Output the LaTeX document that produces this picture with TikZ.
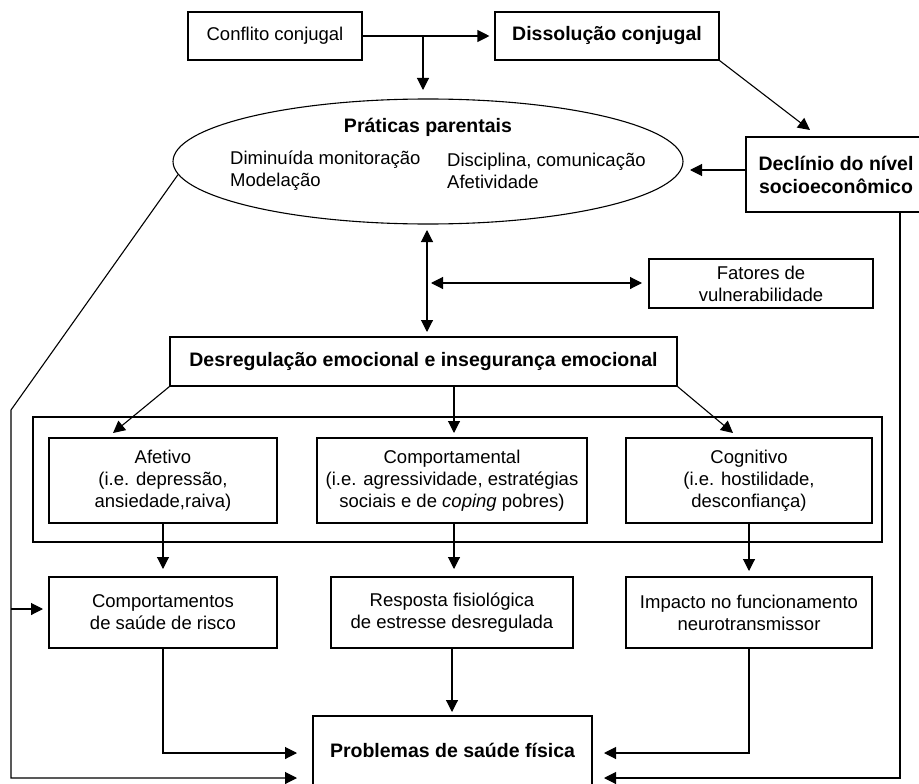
\documentclass[tikz,border=0pt]{standalone}
\usepackage{fontspec}
\setmainfont{Liberation Sans}
\usetikzlibrary{arrows.meta,shapes.geometric}
\newcommand\txtf{\fontsize{18.5}{22}\selectfont}
\newcommand\btxtf{\fontsize{19.5}{23}\selectfont\bfseries}
\begin{document}
\begin{tikzpicture}[x=1pt,y=-1pt,
  box/.style={draw, line width=1.1pt, inner sep=0pt, align=center, font=\txtf},
  bbox/.style={box, font=\btxtf},
  lbl/.style={inner sep=0pt, align=left, font=\txtf},
  arr/.style={line width=1.1pt, -{Triangle[length=12pt,width=12pt]}},
  arrb/.style={line width=1.1pt, {Triangle[length=12pt,width=12pt]}-{Triangle[length=12pt,width=12pt]}}]
\useasboundingbox (0,0) rectangle (919,784);

% top row
\node[box, minimum width=174pt, minimum height=48pt] (conf) at (275,36) {Conflito conjugal};
\node[bbox, minimum width=224pt, minimum height=48pt] (diss) at (607,36) {Dissolução conjugal};
\node[box, minimum width=200pt, minimum height=75pt] (decl) at (846,174.5) {};
\node[inner sep=0pt, align=center, font=\btxtf] (declt) at (836,174.5) {Declínio do nível\\socioeconômico};

% ellipse
\node[draw, ellipse, line width=1.1pt, minimum width=510pt, minimum height=125pt, inner sep=0pt] (ell) at (428,161.5) {};
\node[inner sep=0pt, font=\btxtf] (pp) at (428,127) {Práticas parentais};
\node[lbl, anchor=west] (pl) at (230,171) {Diminuída monitoração\\Modelação};
\node[lbl, anchor=west] (pr) at (447,171) {Disciplina, comunicação\\Afetividade};

% middle
\node[box, minimum width=224pt, minimum height=49pt] (fat) at (761,283.5) {Fatores de\\vulnerabilidade};
\node[bbox, minimum width=507pt, minimum height=49pt] (desr) at (423.5,361.5) {Desregulação emocional e insegurança emocional};

% group
\node[draw, line width=2.6pt, minimum width=849pt, minimum height=125pt, inner sep=0pt] (grp) at (457.5,479.5) {};
\node[box, minimum width=228pt, minimum height=85pt] (afe) at (163,480.5) {Afetivo\\(i.e. depressão,\\ansiedade,raiva)};
\node[box, minimum width=270pt, minimum height=85pt] (cmp) at (452,480.5) {Comportamental\\(i.e. agressividade, estratégias\\sociais e de \textit{coping} pobres)};
\node[box, minimum width=246pt, minimum height=85pt] (cog) at (749,480.5) {Cognitivo\\(i.e. hostilidade,\\desconfiança)};

% lower
\node[box, minimum width=228pt, minimum height=71pt] (csr) at (163,612.5) {Comportamentos\\de saúde de risco};
\node[box, minimum width=242pt, minimum height=71pt] (resp) at (452,612.5) {Resposta fisiológica\\de estresse desregulada};
\node[box, minimum width=246pt, minimum height=71pt] (imp) at (749,612.5) {Impacto no funcionamento\\neurotransmissor};
\node[box, minimum width=279pt, minimum height=80pt] (prob) at (452.5,756) {};
\node[inner sep=0pt, font=\btxtf] (probt) at (452.5,750) {Problemas de saúde física};

% coordinates
\coordinate (br) at (423,36);
\coordinate (dd) at (810,130);
\coordinate (lk) at (11,410);

% connectors
\draw[arr, shorten >=5pt] (conf.east) -- (diss.west);
\draw[arr] (br) -- (423,90);
\draw[arr] (diss.south east) -- (dd);
\draw[arr] ([yshift=4.5pt]decl.west) -- (690,170);
\draw[arrb] (427,230) -- (427,332);
\draw[arrb] (431,283) -- (642,283);
\draw[arr] (desr.south west) -- (113,433);
\draw[arr] (454,386) -- (454,433);
\draw[arr] (desr.south east) -- (733,433);
\draw[arr] (afe.south) -- (163,569);
\draw[arr] (454,523) -- (454,569);
\draw[arr] (cog.south) -- (749,571);
\draw[arr] (csr.south) -- (163,753) -- (297,753);
\draw[arr] (resp.south) -- (452,712);
\draw[arr] (imp.south) -- (749,753) -- (604,753);
\draw[arr] (ell.183) -- (lk) -- (11,778) -- (297,778);
\draw[arr] (11,609) -- (43,609);
\draw[arr] (900,212) -- (900,778) -- (604,778);
\end{tikzpicture}
\end{document}
